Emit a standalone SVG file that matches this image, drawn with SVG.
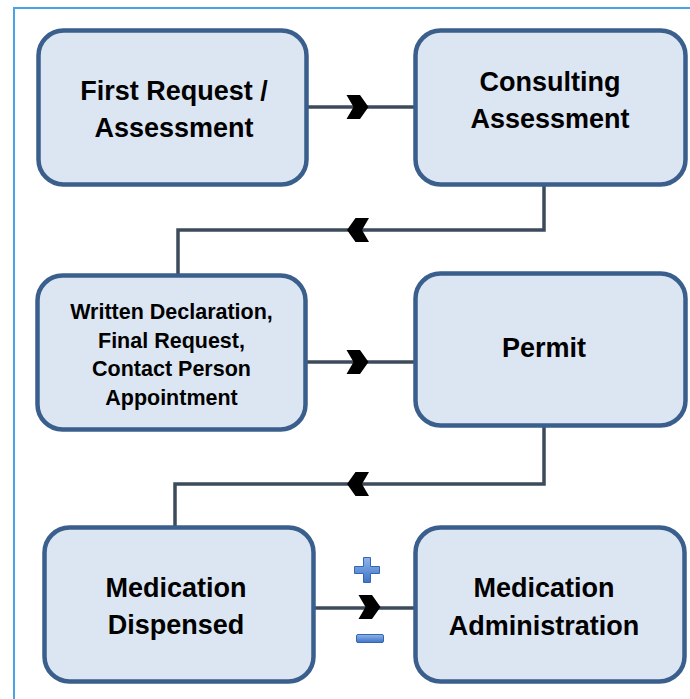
<svg xmlns="http://www.w3.org/2000/svg" width="690" height="699" viewBox="0 0 690 699">
<defs>
<style>
.box{fill:#dce6f2;stroke:#3a5f8d;stroke-width:4.5}
.conn{fill:none;stroke:#3c4b5b;stroke-width:3.5}
.chev{fill:#000}
.t{font-family:"Liberation Sans",Arial,sans-serif;font-weight:bold;font-size:27px;fill:#000;text-anchor:middle}
.s{font-size:21.5px}
</style>
<linearGradient id="blu" x1="0" y1="0" x2="0" y2="1">
<stop offset="0" stop-color="#8fb4ea"/>
<stop offset="1" stop-color="#3f74c8"/>
</linearGradient>
<path id="chr" d="M-11,-12 L2.5,-12 L11,0 L2.5,12 L-11,12 L-4,0 Z"/>
</defs>
<rect x="14" y="8" width="700" height="720" fill="#fff" stroke="#4aa3e6" stroke-width="2"/>
<g id="connectors">
<line class="conn" x1="306" y1="107" x2="416" y2="107"/>
<use href="#chr" class="chev" transform="translate(357.5,107)"/>
<polyline class="conn" points="544,185 544,230 178,230 178,276"/>
<use href="#chr" class="chev" transform="translate(358,230) scale(-1,1)"/>
<line class="conn" x1="306" y1="362" x2="416" y2="362"/>
<use href="#chr" class="chev" transform="translate(357.5,362)"/>
<polyline class="conn" points="544,426 544,484 175,484 175,528"/>
<use href="#chr" class="chev" transform="translate(358,484) scale(-1,1)"/>
<line class="conn" x1="313" y1="608" x2="416" y2="608"/>
<use href="#chr" class="chev" transform="translate(369.5,607)"/>
<g id="plus">
<path d="M363.5,557.5 h7 v9 h9 v7 h-9 v9 h-7 v-9 h-9 v-7 h9 Z" fill="url(#blu)" stroke="#3566b0" stroke-width="1"/>
</g>
<g id="minus">
<rect x="356.5" y="634.5" width="27" height="8" rx="1.5" fill="url(#blu)" stroke="#3566b0" stroke-width="1"/>
</g>
</g>
<g id="n1">
<rect class="box" x="38.5" y="30.5" width="268" height="154" rx="25"/>
<text class="t" x="174" y="100">First Request /</text>
<text class="t" x="174" y="137">Assessment</text>
</g>
<g id="n2">
<rect class="box" x="415.5" y="30.5" width="270" height="154" rx="25"/>
<text class="t" x="550" y="91">Consulting</text>
<text class="t" x="550" y="128">Assessment</text>
</g>
<g id="n3">
<rect class="box" x="37.5" y="275.5" width="268" height="154" rx="25"/>
<text class="t s" x="171.5" y="319">Written Declaration,</text>
<text class="t s" x="171.5" y="347.5">Final Request,</text>
<text class="t s" x="171.5" y="376">Contact Person</text>
<text class="t s" x="171.5" y="405">Appointment</text>
</g>
<g id="n4">
<rect class="box" x="415.5" y="273.5" width="270" height="152" rx="25"/>
<text class="t" x="544" y="357">Permit</text>
</g>
<g id="n5">
<rect class="box" x="44.5" y="527.5" width="269" height="154" rx="25"/>
<text class="t" x="176" y="597">Medication</text>
<text class="t" x="176" y="634">Dispensed</text>
</g>
<g id="n6">
<rect class="box" x="415.5" y="527.5" width="269" height="154" rx="25"/>
<text class="t" x="544" y="597">Medication</text>
<text class="t" x="544" y="635">Administration</text>
</g>
</svg>
